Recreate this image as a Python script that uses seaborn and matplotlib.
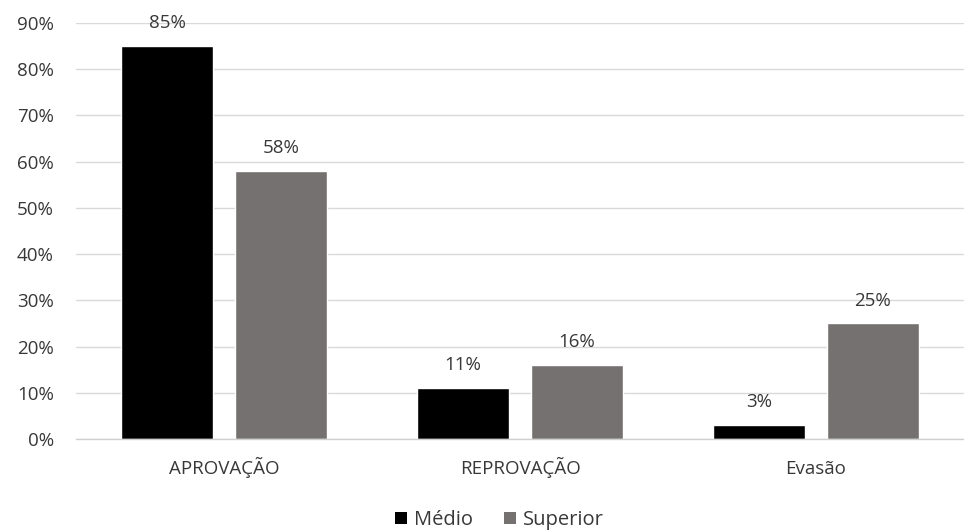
import matplotlib
matplotlib.use("Agg")
import matplotlib.pyplot as plt
import seaborn as sns
import pandas as pd
from matplotlib.patches import Patch

categories = ["APROVAÇÃO", "REPROVAÇÃO", "Evasão"]
medio = [0.85, 0.11, 0.03]
superior = [0.58, 0.16, 0.25]
series_names = ["Médio", "Superior"]
colors = ["#000000", "#767171"]
yticks = [0, 0.1, 0.2, 0.3, 0.4, 0.5, 0.6, 0.7, 0.8, 0.9]

df = pd.DataFrame({
    "cat": categories * 2,
    "val": medio + superior,
    "serie": [series_names[0]] * 3 + [series_names[1]] * 3,
})

sns.set_style("white")
plt.rcParams["font.family"] = ["Open Sans", "DejaVu Sans"]

FS = 13.5
TXT = "#383838"

fig = plt.figure(figsize=(9.64, 5.32), dpi=100)
ax = fig.add_axes([76/964, 1 - 439/532, 888/964, (439 - 23)/532])

sns.barplot(data=df, x="cat", y="val", hue="serie", palette=colors,
            width=0.77, gap=0.2, ax=ax, legend=False, saturation=1)

ax.set_ylim(0, 0.9)
ax.set_xlim(-0.5, 2.5)
ax.set_yticks(yticks)
ax.set_yticklabels([f"{int(round(t*100))}%" for t in yticks], fontsize=FS, color=TXT)
ax.tick_params(axis="x", labelsize=FS, labelcolor=TXT, length=0, pad=25)
ax.tick_params(axis="y", length=0, pad=16)
for lbl in ax.get_xticklabels():
    lbl.set_verticalalignment("baseline")
ax.set_xlabel("")
ax.set_ylabel("")
ax.yaxis.grid(True, color="#d9d9d9", linewidth=1)
ax.set_axisbelow(True)
for s in ["top", "right", "left"]:
    ax.spines[s].set_visible(False)
ax.spines["bottom"].set_color("#d0d0d0")
ax.spines["bottom"].set_linewidth(1)

for cont in ax.containers:
    labels = [f"{int(round(v*100))}%" for v in cont.datavalues]
    ax.bar_label(cont, labels=labels, padding=10, fontsize=FS, color=TXT)

handles = [Patch(facecolor=c, edgecolor="none") for c in colors]
fig.legend(handles, series_names, loc="center", bbox_to_anchor=(0.518, 1 - 520/532),
           ncol=2, frameon=False, fontsize=14.5, handlelength=0.6, handleheight=0.6,
           handletextpad=0.35, columnspacing=1.5, labelcolor=TXT)

fig.savefig("out.png", dpi=100)
